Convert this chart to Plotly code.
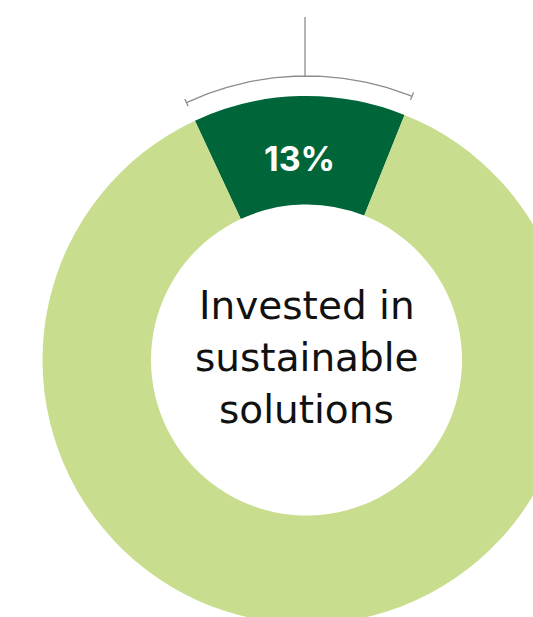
import math
import plotly.graph_objects as go

# ---- data ----
labels = ["Invested in sustainable solutions", "Other"]
values = [13, 87]
center_lines = ["Invested in", "sustainable", "solutions"]
colors = ["#00663A", "#C9DD8E"]

# ---- layout geometry (pixels) ----
W, H = 600, 650
cx, cy = 306.5, 360.0
R_OUT = 264.0
R_IN = 155.5
ROT = -25.0  # degrees, clockwise from 12 o'clock

fig = go.Figure()

fig.add_trace(go.Pie(
    labels=labels,
    values=values,
    sort=False,
    direction="clockwise",
    rotation=ROT,
    hole=R_IN / R_OUT,
    marker=dict(colors=colors, line=dict(width=0)),
    textinfo="none",
    hoverinfo="skip",
    showlegend=False,
    domain=dict(x=[(cx - R_OUT) / W, (cx + R_OUT) / W],
                y=[(H - cy - R_OUT) / H, (H - cy + R_OUT) / H]),
))

# bracket over the highlighted slice
total = sum(values)
a0 = math.radians(ROT)
a1 = math.radians(ROT + values[0] / total * 360.0)
r_b = 284.0
n = 60
xs, ys = [], []
for i in range(n + 1):
    a = a0 + (a1 - a0) * i / n
    xs.append(cx + r_b * math.sin(a))
    ys.append(cy - r_b * math.cos(a))
line_style = dict(color="#8C8C8C", width=1.3)
fig.add_trace(go.Scatter(x=xs, y=ys, mode="lines", line=line_style,
                         hoverinfo="skip", showlegend=False))
for a in (a0, a1):
    fig.add_trace(go.Scatter(
        x=[cx + (r_b - 4) * math.sin(a), cx + (r_b + 4) * math.sin(a)],
        y=[cy - (r_b - 4) * math.cos(a), cy - (r_b + 4) * math.cos(a)],
        mode="lines", line=line_style, hoverinfo="skip", showlegend=False))
top_y = cy - r_b
fig.add_trace(go.Scatter(x=[cx - 1.5, cx - 1.5], y=[17, top_y + 0.5], mode="lines",
                         line=line_style, hoverinfo="skip", showlegend=False))

annotations = [dict(
    x=299.5, y=158.5, xref="x", yref="y", text=f"<b>{values[0]}%</b>",
    showarrow=False, xanchor="center", yanchor="middle",
    font=dict(family="Inter", size=34, color="#FFFFFF"))]
for i, t in enumerate(center_lines):
    annotations.append(dict(
        x=cx, y=305 + 52 * i, xref="x", yref="y", text=t, showarrow=False,
        xanchor="center", yanchor="middle",
        font=dict(family="DejaVu Sans", size=39, color="#111111")))

fig.update_layout(
    width=W, height=H,
    margin=dict(l=0, r=0, t=0, b=0),
    paper_bgcolor="white", plot_bgcolor="rgba(0,0,0,0)",
    xaxis=dict(range=[0, W], visible=False, domain=[0, 1], fixedrange=True),
    yaxis=dict(range=[H, 0], visible=False, domain=[0, 1], fixedrange=True),
    annotations=annotations,
)

fig.write_html(
    "out.html",
    config={"displayModeBar": False},
    post_script="document.body.style.margin='0';document.body.style.overflow='hidden';",
)
